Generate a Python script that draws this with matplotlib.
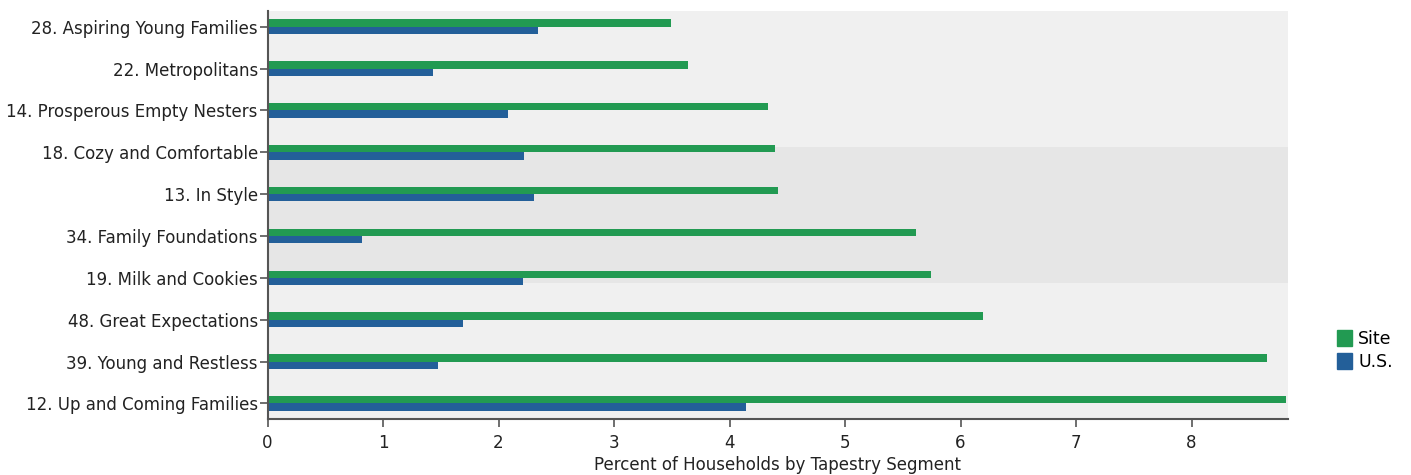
import matplotlib
matplotlib.use("Agg")
import matplotlib.pyplot as plt
from matplotlib.patches import Patch
import numpy as np

categories = [
    "28. Aspiring Young Families",
    "22. Metropolitans",
    "14. Prosperous Empty Nesters",
    "18. Cozy and Comfortable",
    "13. In Style",
    "34. Family Foundations",
    "19. Milk and Cookies",
    "48. Great Expectations",
    "39. Young and Restless",
    "12. Up and Coming Families",
]
site = [3.49, 3.64, 4.33, 4.39, 4.42, 5.61, 5.74, 6.19, 8.65, 8.82]
us = [2.34, 1.43, 2.08, 2.22, 2.31, 0.82, 2.21, 1.69, 1.48, 4.14]
xticks = [0, 1, 2, 3, 4, 5, 6, 7, 8]

GREEN = "#229a52"
BLUE = "#235f99"
W, H = 1411, 475

plt.rcParams["font.family"] = ["DejaVu Sans"]

fig = plt.figure(figsize=(W / 100, H / 100), dpi=100)
ax = fig.add_axes([267.5 / W, 1 - 418.5 / H, (1287.5 - 267.5) / W, (418.5 - 11) / H])

y = np.arange(len(categories))
bh = 0.175
ax.barh(y - 0.0875, site, height=bh, color=GREEN, zorder=2)
ax.barh(y + 0.0875, us, height=bh, color=BLUE, zorder=2)

ax.set_facecolor("#f0f0f0")
ax.axhspan(2.88, 6.13, color="#e6e6e6", zorder=0, lw=0)

ax.set_xlim(0, 8.83)
ax.set_ylim(len(categories) - 1 + 0.36, -0.375)
ax.set_yticks(y)
ax.set_yticklabels(categories, fontsize=12, color="#222222")
ax.set_xticks(xticks)
ax.set_xticklabels([str(t) for t in xticks], fontsize=12, color="#222222")
ax.tick_params(axis="y", length=6, width=1.2, color="#555555", pad=1)
ax.tick_params(axis="x", length=6, width=1.2, color="#555555", pad=5)

for s in ["top", "right"]:
    ax.spines[s].set_visible(False)
for s in ["left", "bottom"]:
    ax.spines[s].set_color("#555555")
    ax.spines[s].set_linewidth(1.5)

ax.set_xlabel("Percent of Households by Tapestry Segment", fontsize=12, color="#222222", labelpad=3)

handles = [Patch(color=GREEN, label="Site"), Patch(color=BLUE, label="U.S.")]
fig.legend(handles=handles, loc="center left", bbox_to_anchor=(1337 / W, 1 - 350.5 / H),
           frameon=False, fontsize=12.5, handlelength=0.88, handleheight=1.0,
           handletextpad=0.35, labelspacing=0.3, borderpad=0, borderaxespad=0)

fig.savefig("out.png", dpi=100)
